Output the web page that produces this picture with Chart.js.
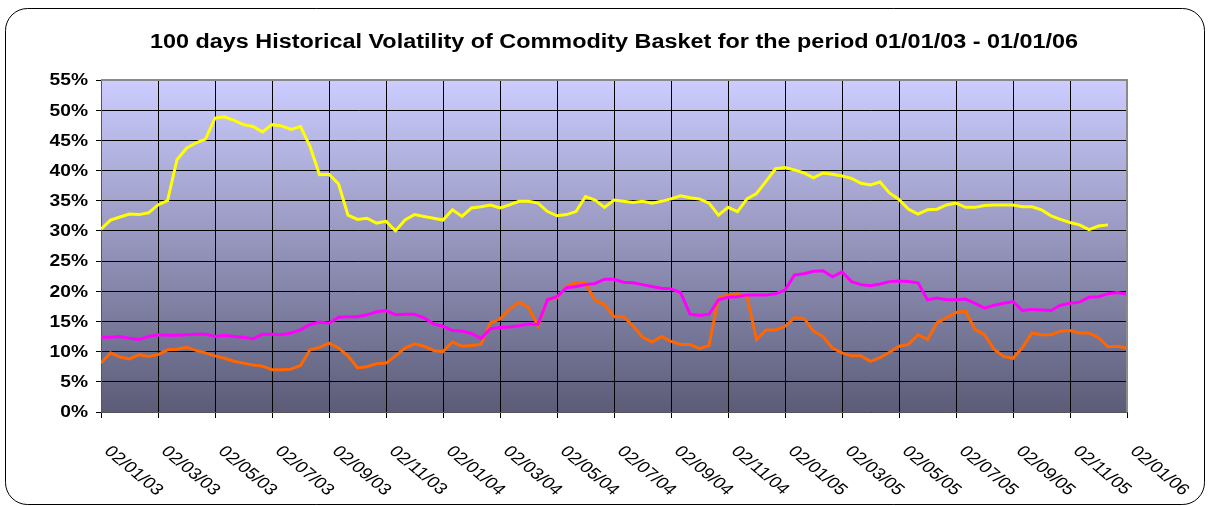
<!DOCTYPE html>
<html>
<head>
<meta charset="utf-8">
<script src="https://cdn.jsdelivr.net/npm/chart.js@4.4.1/dist/chart.umd.min.js"></script>
<style>
    html, body { margin: 0; padding: 0; background: #fff; }
    #wrap { position: relative; width: 1208px; height: 506px; }
</style>
</head>
<body>
<div id="wrap"><canvas id="main-chart" width="1208" height="506"></canvas></div>
<script>
const chartTitle = '100 days Historical Volatility of Commodity Basket for the period 01/01/03 - 01/01/06';

const dateLabels = ['02/01/03', '02/03/03', '02/05/03', '02/07/03', '02/09/03', '02/11/03', '02/01/04', '02/03/04', '02/05/04',
    '02/07/04', '02/09/04', '02/11/04', '02/01/05', '02/03/05', '02/05/05', '02/07/05', '02/09/05', '02/11/05', '02/01/06'];

const yMax = 55;
const yStep = 5;

// volatility in %, read roughly every 10 days
const yellowSeries = [
    30.3, 31.8, 32.3, 32.8, 32.7, 33.0, 34.3, 35.0, 41.8, 43.7, 44.6, 45.2,
    48.7, 48.9, 48.3, 47.6, 47.3, 46.4, 47.6, 47.4, 46.8, 47.3, 44.0, 39.3,
    39.4, 37.8, 32.6, 31.9, 32.1, 31.3, 31.6, 30.0, 31.8, 32.7, 32.4, 32.1,
    31.8, 33.5, 32.4, 33.8, 34.0, 34.3, 33.8, 34.3, 34.9, 34.9, 34.6, 33.2,
    32.5, 32.7, 33.2, 35.7, 35.1, 33.9, 35.1, 34.9, 34.7, 34.9, 34.6, 34.9,
    35.3, 35.8, 35.5, 35.3, 34.6, 32.6, 33.9, 33.2, 35.3, 36.2, 38.2, 40.3,
    40.5, 40.1, 39.6, 38.8, 39.6, 39.4, 39.1, 38.7, 37.9, 37.6, 38.1, 36.3,
    35.2, 33.6, 32.8, 33.5, 33.6, 34.3, 34.6, 33.9, 33.9, 34.2, 34.3, 34.3,
    34.3, 34.0, 34.0, 33.5, 32.5, 31.9, 31.4, 31.0, 30.2, 30.8, 31.0, null,
    null
];

const magentaSeries = [
    12.4, 12.4, 12.5, 12.2, 12.0, 12.5, 12.8, 12.7, 12.7, 12.8, 12.9, 12.9,
    12.5, 12.7, 12.5, 12.4, 12.1, 12.9, 12.9, 12.8, 13.1, 13.6, 14.5, 14.9,
    14.7, 15.7, 15.8, 15.8, 16.1, 16.6, 16.8, 16.1, 16.2, 16.2, 15.6, 14.6,
    14.2, 13.5, 13.4, 13.0, 12.2, 13.8, 14.0, 14.1, 14.3, 14.6, 14.5, 18.6,
    19.1, 20.6, 20.8, 21.1, 21.3, 22.0, 22.0, 21.5, 21.4, 21.1, 20.8, 20.5,
    20.4, 19.8, 16.2, 16.0, 16.2, 18.6, 19.0, 19.1, 19.4, 19.4, 19.4, 19.6,
    20.2, 22.7, 22.9, 23.3, 23.4, 22.4, 23.2, 21.6, 21.1, 20.9, 21.2, 21.6,
    21.7, 21.6, 21.4, 18.6, 18.9, 18.6, 18.6, 18.7, 18.0, 17.2, 17.7, 18.0,
    18.3, 16.8, 17.0, 16.9, 16.8, 17.7, 18.0, 18.2, 19.0, 19.1, 19.6, 19.8,
    19.5
];

const orangeSeries = [
    8.1, 9.8, 9.1, 8.8, 9.5, 9.2, 9.5, 10.3, 10.4, 10.7, 10.2, 9.8,
    9.3, 8.9, 8.4, 8.1, 7.8, 7.6, 7.0, 7.0, 7.1, 7.7, 10.3, 10.7,
    11.4, 10.6, 9.3, 7.3, 7.5, 8.0, 8.1, 9.3, 10.6, 11.3, 10.9, 10.2,
    10.0, 11.6, 10.9, 11.0, 11.2, 14.8, 15.4, 17.0, 18.2, 17.3, 14.3, 18.6,
    18.9, 20.8, 21.4, 21.3, 18.5, 17.8, 15.8, 15.8, 14.3, 12.4, 11.6, 12.5,
    11.7, 11.2, 11.2, 10.5, 11.0, 18.9, 19.4, 19.6, 19.1, 12.0, 13.6, 13.6,
    14.2, 15.6, 15.5, 13.4, 12.5, 10.6, 9.8, 9.3, 9.3, 8.4, 9.0, 9.9,
    10.9, 11.2, 12.8, 12.0, 14.8, 15.6, 16.5, 16.7, 13.7, 12.8, 10.4, 9.2,
    8.9, 10.7, 13.1, 12.8, 12.8, 13.4, 13.5, 13.1, 13.1, 12.3, 10.8, 10.9,
    10.6
];

const pointsPerLabel = (yellowSeries.length - 1) / (dateLabels.length - 1);
const toPoints = (arr) => arr.map((v, i) => ({ x: i, y: v }));

const fontFamily = '"Liberation Sans", Arial, sans-serif';
const stretch = 1.2; // the original text is a bit wider than plain Arial

const frameAndText = {
    id: 'frameAndText',
    beforeDraw(chart) {
        const { ctx, chartArea } = chart;
        ctx.save();
        ctx.fillStyle = '#ffffff';
        ctx.fillRect(0, 0, chart.width, chart.height);
        ctx.beginPath();
        ctx.roundRect(5.5, 8.5, 1199, 496, 22);
        ctx.strokeStyle = '#000000';
        ctx.lineWidth = 1;
        ctx.stroke();
        const grad = ctx.createLinearGradient(0, chartArea.top, 0, chartArea.bottom);
        grad.addColorStop(0, '#ccccff');
        grad.addColorStop(1, '#5c5c78');
        ctx.fillStyle = grad;
        ctx.fillRect(chartArea.left, chartArea.top, chartArea.right - chartArea.left, chartArea.bottom - chartArea.top);
        ctx.restore();
    },
    afterDraw(chart) {
        const { ctx, chartArea } = chart;
        const xScale = chart.scales.x;
        const yScale = chart.scales.y;
        ctx.save();
        // plot border, top and right in grey
        ctx.strokeStyle = '#8a8a8a';
        ctx.lineWidth = 2;
        ctx.beginPath();
        ctx.moveTo(chartArea.left, chartArea.top);
        ctx.lineTo(chartArea.right, chartArea.top);
        ctx.lineTo(chartArea.right, chartArea.bottom);
        ctx.stroke();

        ctx.fillStyle = '#000000';

        // title
        ctx.save();
        ctx.font = 'bold 20px ' + fontFamily;
        ctx.textAlign = 'center';
        ctx.textBaseline = 'middle';
        ctx.translate(614, 42);
        ctx.scale(1.17, 1);
        ctx.fillText(chartTitle, 0, 0);
        ctx.restore();

        // y labels
        ctx.font = 'bold 16px ' + fontFamily;
        ctx.textAlign = 'right';
        ctx.textBaseline = 'middle';
        yScale.ticks.forEach(t => {
            ctx.save();
            ctx.translate(chartArea.left - 13, yScale.getPixelForValue(t.value) + 1);
            ctx.scale(stretch, 1);
            ctx.fillText(t.value + '%', 0, 0);
            ctx.restore();
        });

        // x labels, rotated down to the right
        ctx.font = '16px ' + fontFamily;
        ctx.textAlign = 'left';
        ctx.textBaseline = 'middle';
        dateLabels.forEach((label, i) => {
            const x = xScale.getPixelForValue(i * pointsPerLabel);
            ctx.save();
            ctx.translate(x + 6, chartArea.bottom + 37);
            ctx.scale(stretch, 1);
            ctx.rotate(Math.PI / 4);
            ctx.fillText(label, 0, 0);
            ctx.restore();
        });
        ctx.restore();
    }
};

const lineSet = (data, color) => ({
    data: toPoints(data),
    borderColor: color,
    backgroundColor: color,
    borderWidth: 3,
    pointRadius: 0,
    tension: 0,
    spanGaps: false
});

new Chart(document.getElementById('main-chart').getContext('2d'), {
    type: 'line',
    data: {
        datasets: [
            lineSet(yellowSeries, '#ffff00'),
            lineSet(magentaSeries, '#ff00ff'),
            lineSet(orangeSeries, '#ff6600')
        ]
    },
    options: {
        responsive: false,
        animation: false,
        layout: { padding: { top: 80, right: 81, left: 0, bottom: 0 } },
        plugins: {
            legend: { display: false },
            title: { display: false },
            tooltip: { enabled: false }
        },
        scales: {
            x: {
                type: 'linear',
                min: 0,
                max: yellowSeries.length - 1,
                afterFit: (scale) => { scale.height = 94; },
                ticks: { display: false },
                afterBuildTicks: (scale) => {
                    scale.ticks = dateLabels.map((l, i) => ({ value: i * pointsPerLabel }));
                },
                grid: { color: '#000000', lineWidth: 1, tickLength: 6, drawTicks: true },
                border: { color: '#555555', width: 1 }
            },
            y: {
                min: 0,
                max: yMax,
                afterFit: (scale) => { scale.width = 101; },
                ticks: { stepSize: yStep, display: false },
                grid: { color: '#000000', lineWidth: 1, tickLength: 5, drawTicks: true },
                border: { color: '#555555', width: 1 }
            }
        }
    },
    plugins: [frameAndText]
});
</script>
</body>
</html>
